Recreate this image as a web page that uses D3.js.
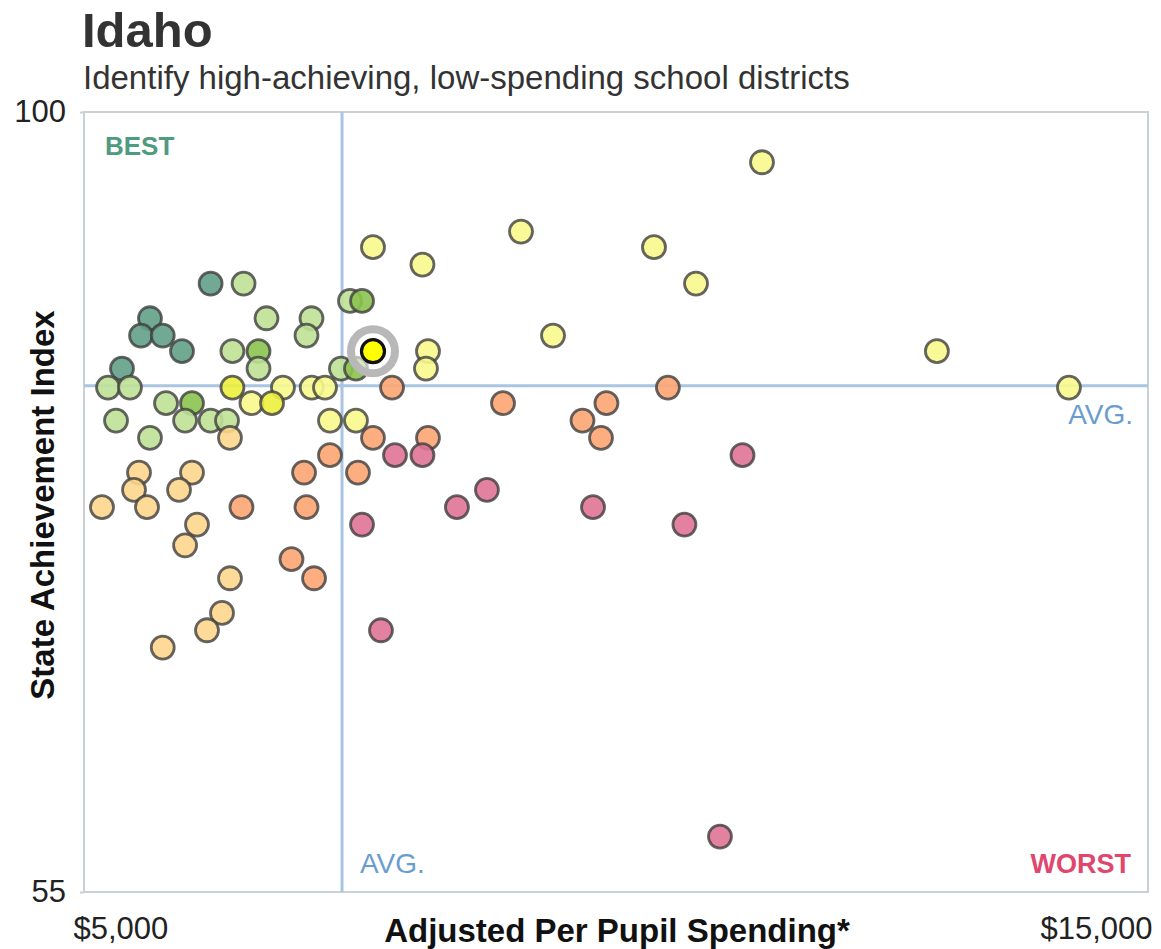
<!DOCTYPE html>
<html>
<head>
<meta charset="utf-8">
<script src="https://cdn.jsdelivr.net/npm/d3@7"></script>
<style>
  body { margin: 0; background: #fff; }
  svg { display: block; font-family: "Liberation Sans", Arial, Helvetica, sans-serif; }
</style>
</head>
<body>
<svg id="chart" width="1161" height="949"></svg>
<script>
// spending ($), achievement index, colour tier per district
var spending = [
    11372, 9107, 7716, 10357, 8181, 10752, 6190, 6500, 7500, 7613,
    6715, 5620, 7138, 5536, 5740, 7091, 9408, 5921, 6395, 6640,
    7716, 8233, 13016, 5357, 6640, 7415, 7556, 8214, 5226, 5432,
    6395, 6870, 7140, 7265, 7895, 10488, 14257, 5771, 6015, 6574,
    6767, 8938, 9910, 5301, 5950, 6190, 6344, 7312, 7556, 9685,
    5620, 6372, 7716, 8233, 9859, 7923, 8181, 11189, 7312, 5517,
    6015, 7068, 7575, 5470, 5893, 8787, 5169, 5592, 6480, 7091,
    8505, 9784, 6062, 7613, 10643, 5950, 6950, 6372, 7162, 6297,
    6156, 7791, 5740, 10977
];
var achievement = [
    97.1, 93.1, 92.2, 92.2, 91.2, 90.1, 90.1, 90.1, 89.1, 89.1,
    88.1, 88.1, 88.1, 87.1, 87.1, 87.1, 87.1, 86.2, 86.2, 86.2,
    86.2, 86.2, 86.2, 85.2, 85.2, 85.2, 85.2, 85.2, 84.1, 84.1,
    84.1, 84.1, 84.1, 84.1, 84.1, 84.1, 84.1, 83.2, 83.2, 83.2,
    83.2, 83.2, 83.2, 82.2, 82.2, 82.2, 82.2, 82.2, 82.2, 82.2,
    81.2, 81.2, 81.2, 81.2, 81.2, 80.2, 80.2, 80.2, 80.2, 79.2,
    79.2, 79.2, 79.2, 78.2, 78.2, 78.2, 77.2, 77.2, 77.2, 77.2,
    77.2, 77.2, 76.2, 76.2, 76.2, 75.0, 74.2, 73.1, 73.1, 71.1,
    70.1, 70.1, 69.1, 58.2
];
// 0 best (teal) ... 7 worst (pink), 8 = selected district
var tier = [
    4, 4, 4, 4, 4, 4, 0, 2, 2, 1,
    2, 0, 2, 0, 0, 2, 4, 0, 2, 1,
    8, 4, 4, 0, 2, 2, 1, 4, 2, 2,
    3, 4, 4, 4, 6, 6, 4, 2, 1, 4,
    3, 6, 6, 2, 2, 2, 2, 4, 4, 6,
    2, 5, 6, 6, 6, 7, 7, 7, 6, 5,
    5, 6, 6, 5, 5, 7, 5, 5, 6, 6,
    7, 7, 5, 7, 7, 5, 6, 5, 6, 5,
    5, 7, 5, 7
];
var tierColors = ["#62a08a", "#8cc350", "#bfe196", "#ecf03c", "#f8fa8c",
                  "#fdd68c", "#fca573", "#e07396", "#ffff00"];

var avgSpending = 7425;
var avgAchievement = 84.2;
var xTicks = [5000, 15000];
var yTicks = [55, 100];

var svg = d3.select("#chart");
var plotLeft = 84, plotRight = 1148, plotTop = 112, plotBottom = 892;

var x = d3.scaleLinear().domain([5000, 15000]).range([plotLeft, plotRight]);
var y = d3.scaleLinear().domain([55, 100]).range([plotBottom, plotTop]);

// titles
svg.append("text")
    .attr("x", 82).attr("y", 47)
    .attr("font-size", 49).attr("font-weight", "bold")
    .attr("fill", "#333")
    .text("Idaho");
svg.append("text")
    .attr("x", 83).attr("y", 89)
    .attr("font-size", 33)
    .attr("fill", "#333")
    .text("Identify high-achieving, low-spending school districts");

// frame
svg.append("rect")
    .attr("x", plotLeft).attr("y", plotTop)
    .attr("width", plotRight - plotLeft).attr("height", plotBottom - plotTop)
    .attr("fill", "none")
    .attr("stroke", "#c9d1d6")
    .attr("stroke-width", 2);

// average lines
svg.append("line")
    .attr("x1", x(avgSpending)).attr("x2", x(avgSpending))
    .attr("y1", plotTop).attr("y2", plotBottom)
    .attr("stroke", "#a9c5df").attr("stroke-width", 3);
svg.append("line")
    .attr("x1", plotLeft).attr("x2", plotRight)
    .attr("y1", y(avgAchievement)).attr("y2", y(avgAchievement))
    .attr("stroke", "#a9c5df").attr("stroke-width", 3);

// axes
var yAxis = svg.append("g")
    .attr("transform", "translate(" + plotLeft + ",0)")
    .call(d3.axisLeft(y).tickValues(yTicks).tickSize(4).tickPadding(14));
yAxis.select(".domain").remove();
yAxis.selectAll("line").attr("stroke", "#c9d1d6").attr("stroke-width", 2);
yAxis.selectAll("text")
    .attr("font-size", 31).attr("fill", "#222")
    .attr("font-family", "Liberation Sans, Arial, sans-serif");

var xAxis = svg.append("g")
    .attr("transform", "translate(0," + plotBottom + ")")
    .call(d3.axisBottom(x).tickValues(xTicks).tickSize(0).tickPadding(25).tickFormat(d3.format("$,")));
xAxis.select(".domain").remove();
xAxis.selectAll("text")
    .attr("font-size", 31).attr("fill", "#222")
    .attr("font-family", "Liberation Sans, Arial, sans-serif")
    .attr("text-anchor", function(d, i){ return i == 0 ? "start" : "end"; })
    .attr("dx", function(d, i){ return i == 0 ? -11 : 4; });

svg.append("text")
    .attr("x", 617).attr("y", 942)
    .attr("text-anchor", "middle")
    .attr("font-size", 33).attr("font-weight", "bold")
    .attr("fill", "#111")
    .text("Adjusted Per Pupil Spending*");
svg.append("text")
    .attr("transform", "translate(54,505) rotate(-90)")
    .attr("text-anchor", "middle")
    .attr("font-size", 33).attr("font-weight", "bold")
    .attr("fill", "#111")
    .text("State Achievement Index");

// quadrant labels
svg.append("text")
    .attr("x", 105).attr("y", 155)
    .attr("font-size", 26).attr("font-weight", "bold")
    .attr("fill", "#4f9b80")
    .text("BEST");
svg.append("text")
    .attr("x", 1131).attr("y", 873)
    .attr("text-anchor", "end")
    .attr("font-size", 27).attr("font-weight", "bold")
    .attr("fill", "#e0476e")
    .text("WORST");
svg.append("text")
    .attr("x", x(avgSpending) + 18).attr("y", 873)
    .attr("font-size", 28)
    .attr("fill", "#6a9dcf")
    .text("AVG.");
svg.append("text")
    .attr("x", 1133).attr("y", y(avgAchievement) + 38)
    .attr("text-anchor", "end")
    .attr("font-size", 28)
    .attr("fill", "#6a9dcf")
    .text("AVG.");

// points
var data = d3.range(spending.length).map(function(i){
    return { x: spending[i], y: achievement[i], t: tier[i] };
});
var others = data.filter(function(d){ return d.t != 8; });
var picked = data.filter(function(d){ return d.t == 8; });

svg.append("g")
    .selectAll("circle")
    .data(others)
    .enter()
    .append("circle")
    .attr("cx", function(d){ return x(d.x); })
    .attr("cy", function(d){ return y(d.y); })
    .attr("r", 11.5)
    .attr("fill", function(d){ return tierColors[d.t]; })
    .attr("fill-opacity", 0.9)
    .attr("stroke", "#3e3e3e")
    .attr("stroke-opacity", 0.8)
    .attr("stroke-width", 2.8);

var sel = svg.append("g");
sel.selectAll("circle.halo")
    .data(picked)
    .enter()
    .append("circle")
    .attr("class", "halo")
    .attr("cx", function(d){ return x(d.x); })
    .attr("cy", function(d){ return y(d.y); })
    .attr("r", 22)
    .attr("fill", "#fff")
    .attr("fill-opacity", 0.6)
    .attr("stroke", "#b8b8b8")
    .attr("stroke-width", 8);
sel.selectAll("circle.dot")
    .data(picked)
    .enter()
    .append("circle")
    .attr("class", "dot")
    .attr("cx", function(d){ return x(d.x); })
    .attr("cy", function(d){ return y(d.y); })
    .attr("r", 11.5)
    .attr("fill", tierColors[8])
    .attr("stroke", "#111")
    .attr("stroke-width", 3.2);
</script>
</body>
</html>
